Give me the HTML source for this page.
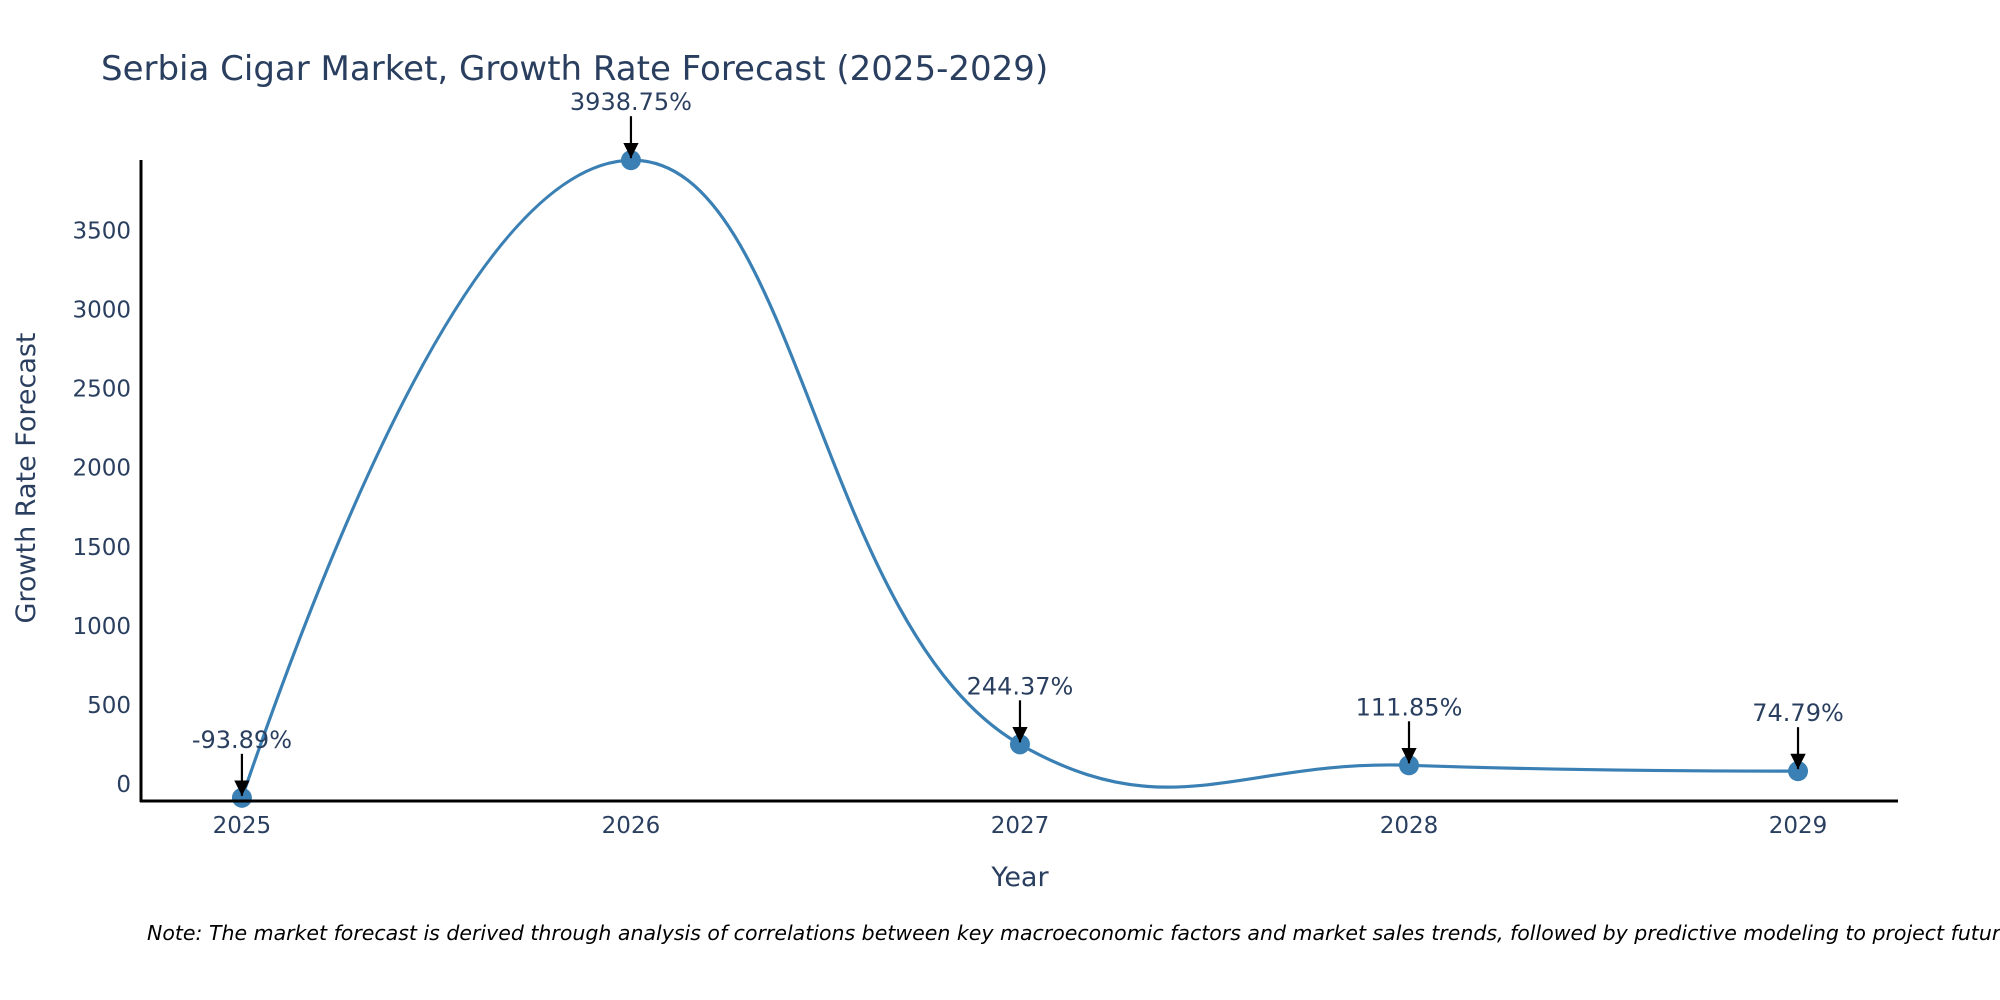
<!DOCTYPE html>
<html><head><meta charset="utf-8"><style>
html,body{margin:0;padding:0;background:#fff;}
svg{display:block;font-family:"DejaVu Sans","Liberation Sans",sans-serif;}
</style></head><body>
<svg id="chart" width="2000" height="1000" viewBox="0 0 2000 1000" xmlns="http://www.w3.org/2000/svg">
<defs><marker id="ah" viewBox="0 0 10 10" refX="10" refY="5" markerWidth="7" markerHeight="7" markerUnits="strokeWidth" orient="auto"><path d="M0,0 L10,5 L0,10 z" fill="#000"/></marker></defs>
<text x="101" y="80" font-size="34" fill="#2a3f5f">Serbia Cigar Market, Growth Rate Forecast (2025-2029)</text>
<g id="yticks"></g><g id="xticks"></g>
<path id="line" fill="none" stroke="#3a80b4" stroke-width="3.2"/>
<g id="points"></g><g id="annots"></g>
<line x1="141" y1="160" x2="141" y2="802" stroke="#000" stroke-width="3"/>
<line x1="140" y1="801" x2="1898" y2="801" stroke="#000" stroke-width="3"/>
<text transform="translate(35,478) rotate(-90)" text-anchor="middle" font-size="27" fill="#2a3f5f">Growth Rate Forecast</text>
<text x="1020" y="886" text-anchor="middle" font-size="27" fill="#2a3f5f">Year</text>
<text x="147" y="940" font-size="20.5" font-style="italic" fill="#000">Note: The market forecast is derived through analysis of correlations between key macroeconomic factors and market sales trends, followed by predictive modeling to project future sales.</text>
</svg>
<script>
const years = [2025, 2026, 2027, 2028, 2029];
const values = [-93.89, 3938.75, 244.37, 111.85, 74.79];
const labels = ["-93.89%", "3938.75%", "244.37%", "111.85%", "74.79%"];
const yTickVals = [0, 500, 1000, 1500, 2000, 2500, 3000, 3500];

const NS = "http://www.w3.org/2000/svg";
const X0 = 140, X1 = 1898, Y0 = 801, Y1 = 160;
const xMin = 2024.738, xMax = 2029.257, yMin = -114, yMax = 3940;
const xs = v => X0 + (v - xMin) / (xMax - xMin) * (X1 - X0);
const ys = v => Y0 - (v - yMin) / (yMax - yMin) * (Y0 - Y1);
function mk(tag, attrs, parent, txt) {
  const e = document.createElementNS(NS, tag);
  for (const k in attrs) e.setAttribute(k, attrs[k]);
  if (txt !== undefined) e.textContent = txt;
  parent.appendChild(e); return e;
}
const yt = document.getElementById('yticks');
yTickVals.forEach(v => {
  const t = mk('text', {x: 131, y: ys(v) + 9, 'text-anchor': 'end', 'font-size': 23, fill: '#2a3f5f'}, yt, String(v));
  
  
});
const xt = document.getElementById('xticks');
years.forEach(v => {
  const t = mk('text', {x: xs(v), y: 833, 'text-anchor': 'middle', 'font-size': 23, fill: '#2a3f5f'}, xt, String(v));
  
  
});
const pts = years.map((y, i) => [xs(y), ys(values[i])]);
function tangent(p, t, n, s) {
  const d1x = p[0]-t[0], d1y = p[1]-t[1], d2x = n[0]-t[0], d2y = n[1]-t[1];
  const d1a = Math.pow(d1x*d1x + d1y*d1y, 0.25), d2a = Math.pow(d2x*d2x + d2y*d2y, 0.25);
  const nx = (d2a*d2a*d1x - d1a*d1a*d2x)*s, ny = (d2a*d2a*d1y - d1a*d1a*d2y)*s;
  const a = 3*d2a*(d1a+d2a), b = 3*d1a*(d1a+d2a);
  return [[t[0]+nx/a, t[1]+ny/a], [t[0]-nx/b, t[1]-ny/b]];
}
const sm = 1.3, tg = [];
for (let i = 1; i < pts.length - 1; i++) tg.push(tangent(pts[i-1], pts[i], pts[i+1], sm));
let d = 'M' + pts[0] + 'Q' + tg[0][0] + ' ' + pts[1];
for (let i = 2; i < pts.length - 1; i++) d += 'C' + tg[i-2][1] + ' ' + tg[i-1][0] + ' ' + pts[i];
d += 'Q' + tg[pts.length-3][1] + ' ' + pts[pts.length-1];
document.getElementById('line').setAttribute('d', d);
const pg = document.getElementById('points'), ag = document.getElementById('annots');
pts.forEach((p, i) => {
  const c = mk('circle', {cx: p[0], cy: p[1], r: 10, fill: '#3a80b4'}, pg);
  
  
  const l = mk('line', {x1: p[0], y1: p[1] - 44, x2: p[0], y2: p[1] - 2, stroke: '#000', 'stroke-width': 2.2, 'marker-end': 'url(#ah)'}, ag);
  
  
  const t = mk('text', {x: p[0], y: p[1] - 50, 'text-anchor': 'middle', 'font-size': 24, fill: '#2a3f5f'}, ag, labels[i]);
  
  
});
</script>
</body></html>
